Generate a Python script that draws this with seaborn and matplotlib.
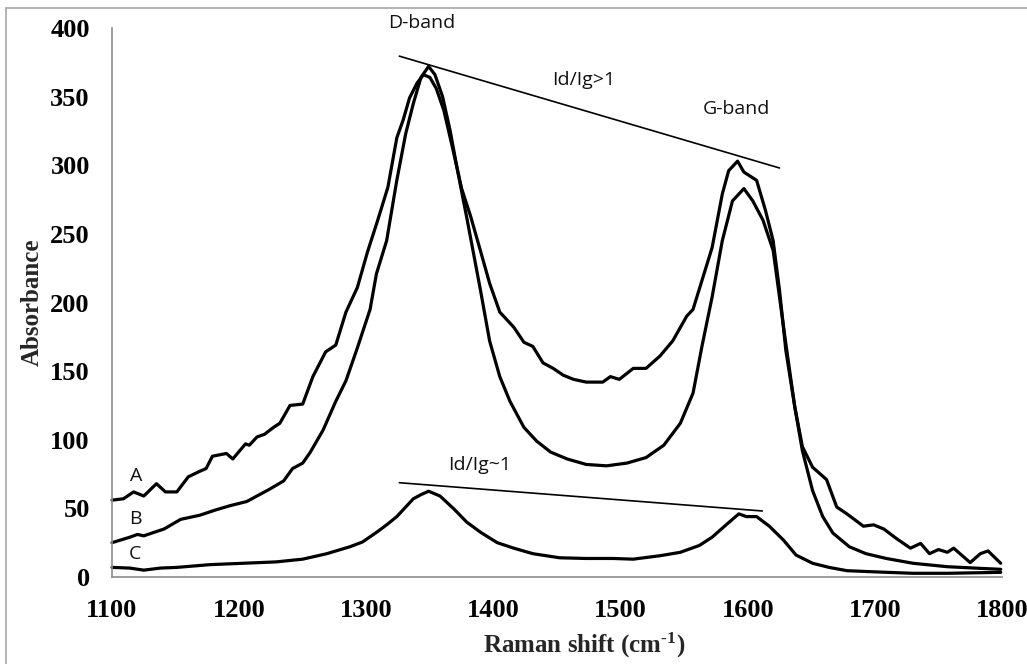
import numpy as np
import pandas as pd
import matplotlib
matplotlib.use("Agg")
import matplotlib.pyplot as plt
import seaborn as sns
from matplotlib.lines import Line2D

# ---------------- data ----------------
A_x = [1100, 1109, 1117, 1125, 1135, 1142, 1151, 1160, 1169, 1174, 1179, 1190, 1195, 1205, 1208,
       1214, 1220, 1227, 1232, 1240, 1250, 1258, 1268, 1276, 1284, 1293, 1301, 1309, 1317, 1324,
       1329, 1334, 1340, 1345, 1350, 1355, 1361, 1368, 1375, 1382, 1390, 1397, 1405, 1416, 1424,
       1431, 1439, 1447, 1455, 1463, 1473, 1486, 1492, 1499, 1510, 1520, 1531, 1541, 1552, 1557,
       1564, 1572, 1580, 1585, 1592, 1597, 1607, 1614, 1620, 1625, 1630, 1637, 1643, 1651, 1662,
       1670, 1678, 1691, 1699, 1707, 1717, 1728, 1736, 1743, 1750, 1757, 1762, 1775, 1783, 1789,
       1799]
A_y = [56, 57, 62, 59, 68, 62, 62, 73, 77, 79, 88, 90, 86, 97, 96,
       102, 104, 109, 112, 125, 126, 146, 164, 169, 193, 211, 237, 260, 284, 320,
       333, 349, 360, 366, 364, 356, 340, 312, 283, 263, 237, 214, 193, 182, 171,
       168, 156, 152, 147, 144, 142, 142, 146, 144, 152, 152, 161, 172, 190, 195,
       216, 240, 279, 296, 303, 295, 289, 267, 245, 209, 165, 124, 95, 80, 71,
       51, 46, 37, 38, 35, 28, 21, 24.5, 17, 20, 18, 21, 10.5, 17, 19,
       10]

B_x = [1100, 1114, 1120, 1125, 1141, 1154, 1169, 1182, 1193, 1206, 1214, 1224, 1235, 1242, 1250,
       1256, 1266, 1276, 1284, 1293, 1303, 1308, 1316, 1324, 1331, 1337, 1343, 1349, 1354, 1360,
       1366, 1371, 1376, 1379, 1390, 1397, 1405, 1413, 1424, 1434, 1445, 1458, 1473, 1489, 1505,
       1520, 1534, 1547, 1557, 1564, 1572, 1580, 1588, 1597, 1604, 1612, 1620, 1625, 1630, 1637,
       1643, 1651, 1659, 1667, 1680, 1693, 1709, 1730, 1757, 1783, 1799]
B_y = [25, 29, 31, 30, 35, 42, 45, 49, 52, 55, 59, 64, 70, 79, 83,
       91, 107, 128, 143, 167, 195, 221, 245, 289, 323, 345, 364, 372, 366, 350,
       325, 300, 276, 262, 208, 172, 146, 128, 109, 99, 91, 86, 82, 81, 83,
       87, 96, 112, 134, 168, 204, 245, 274, 283, 274, 260, 238, 204, 170, 124,
       92, 63, 44, 32, 22, 17, 13.5, 10, 7.5, 6.3, 5.6]

C_x = [1100, 1114, 1125, 1138, 1151, 1177, 1203, 1229, 1250, 1269, 1287, 1297, 1308, 1316, 1324,
       1330, 1337, 1343, 1349, 1358, 1369, 1379, 1390, 1403, 1416, 1431, 1452, 1473, 1494, 1510,
       1531, 1547, 1562, 1572, 1583, 1593, 1599, 1607, 1617, 1628, 1638, 1651, 1664, 1678, 1704,
       1730, 1757, 1799]
C_y = [7, 6.5, 5, 6.5, 7, 9, 10, 11, 13, 17, 22, 25.5, 32.5, 38, 44,
       50, 57, 60, 62.5, 59, 49.5, 40, 32.5, 25, 21, 17, 14, 13.5, 13.5, 13,
       15.5, 18, 23, 29, 38, 46, 44, 44, 37, 27, 16, 10, 7, 4.6, 3.6,
       2.7, 2.7, 3.4]

curve_labels = ["A", "B", "C"]
curve_label_pos = [(1119, 73.5), (1118, 42), (1118, 16.5)]

ratio_lines = {"Id/Ig>1": ([1326, 1625], [379.5, 298]),
               "Id/Ig~1": ([1326, 1611.5], [68.7, 48.1])}
annotations = [("D-band", 1344, 403.5), ("Id/Ig>1", 1471, 362),
               ("G-band", 1591, 341), ("Id/Ig~1", 1389.5, 81.5)]

x_ticks = [1100, 1200, 1300, 1400, 1500, 1600, 1700, 1800]
y_ticks = [0, 50, 100, 150, 200, 250, 300, 350, 400]

# ---------------- plotting ----------------
sns.set_theme(style="white")
serif = ['Liberation Serif', 'DejaVu Serif']
plt.rcParams['font.family'] = serif
plt.rcParams['mathtext.fontset'] = 'custom'
plt.rcParams['mathtext.rm'] = 'Liberation Serif:bold'
plt.rcParams['mathtext.bf'] = 'Liberation Serif:bold'
plt.rcParams['mathtext.it'] = 'Liberation Serif:bold'

fig = plt.figure(figsize=(10.27, 6.64), dpi=100)
ax = fig.add_axes([112/1027, 1-577/664, 890/1027, 549/664])

for xs, ys in [(A_x, A_y), (B_x, B_y), (C_x, C_y)]:
    df = pd.DataFrame({"x": xs, "y": ys})
    sns.lineplot(data=df, x="x", y="y", ax=ax, color="black", linewidth=2.3,
                 estimator=None, sort=False, clip_on=False)

for name, (lx, ly) in ratio_lines.items():
    ax.plot(lx, ly, color="black", linewidth=1.2)

sans = ['Open Sans', 'DejaVu Sans']
for txt, tx, ty in annotations:
    ax.text(tx, ty, txt, ha="center", va="center", fontsize=14, family=sans,
            color="#111111", clip_on=False)
for lab, (tx, ty) in zip(curve_labels, curve_label_pos):
    ax.text(tx, ty, lab, ha="center", va="center", fontsize=14, family=sans,
            color="#111111")

ax.set_xlim(1100, 1800)
ax.set_ylim(0, 400)
ax.set_xticks(x_ticks)
ax.set_yticks(y_ticks)
ax.set_xticklabels([str(t) for t in x_ticks], fontsize=19, fontweight="bold")
ax.set_yticklabels([str(t) for t in y_ticks], fontsize=19, fontweight="bold")
ax.tick_params(axis="both", direction="out", length=6, width=1, color="#8c8c8c",
               labelcolor="black")
ax.tick_params(axis="x", pad=10)
ax.tick_params(axis="y", pad=10)

for side in ["top", "right"]:
    ax.spines[side].set_visible(False)
for side in ["left", "bottom"]:
    ax.spines[side].set_color("#8c8c8c")
    ax.spines[side].set_linewidth(1.2)

ax.set_xlabel(r"Raman shift (cm$^{\text{-}1}$)", fontsize=18, fontweight="bold", family=serif)
ax.set_ylabel("Absorbance", fontsize=18, fontweight="bold")
ax.xaxis.set_label_coords(0.53, -0.098)
ax.yaxis.set_label_coords(-0.077, 0.5)

# outer chart frame (visible only at top and left in the reference)
fig.add_artist(Line2D([5.5/1027, 5.5/1027], [0, 1-7.5/664], color="#a6a6a6", linewidth=1.2))
fig.add_artist(Line2D([5.5/1027, 1], [1-7.5/664, 1-7.5/664], color="#a6a6a6", linewidth=1.2))

fig.savefig("out.png", dpi=100)
